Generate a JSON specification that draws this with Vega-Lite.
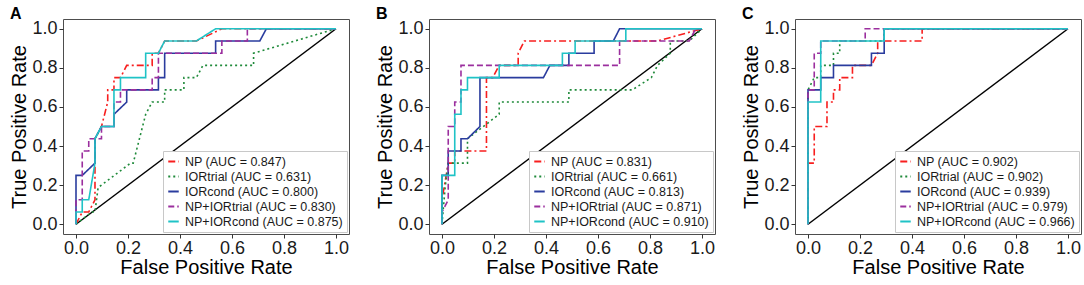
{
  "$schema": "https://vega.github.io/schema/vega-lite/v6.json",
  "padding": {"left": 9, "top": 5, "right": 2, "bottom": 0},
  "background": "white",
  "config": {
    "font": "Liberation Sans",
    "view": {"stroke": "#4d4d4d", "strokeWidth": 1},
    "axis": {"domain": false, "grid": false, "tickColor": "#333333", "tickSize": 4, "labelFontSize": 18, "labelColor": "#1a1a1a", "labelPadding": 2, "titleFontSize": 20, "titleFontWeight": "normal", "titleColor": "#000000"},
    "axisX": {"titlePadding": 0, "labelPadding": 1},
    "axisY": {"titlePadding": 2},
    "legend": {"orient": "bottom-right", "offset": 2, "fillColor": "white", "strokeColor": "#c8c8c8", "padding": 4, "labelFontSize": 12.5, "labelColor": "#1a1a1a", "symbolType": "stroke", "symbolSize": 110, "symbolStrokeWidth": 2, "rowPadding": 2, "labelOffset": 5, "labelLimit": 400},
    "title": {"fontSize": 16, "fontWeight": "bold", "anchor": "start", "frame": "bounds", "offset": -3, "color": "#000000"}
  },
  "datasets": {
    "diag": [{"fpr": 0, "tpr": 0}, {"fpr": 1, "tpr": 1}],
    "roc": [
      {"panel":"A","label":"NP (AUC = 0.847)","step":0,"fpr":0,"tpr":0},
      {"panel":"A","label":"NP (AUC = 0.847)","step":1,"fpr":0.024,"tpr":0.0625},
      {"panel":"A","label":"NP (AUC = 0.847)","step":2,"fpr":0.049,"tpr":0.0625},
      {"panel":"A","label":"NP (AUC = 0.847)","step":3,"fpr":0.073,"tpr":0.125},
      {"panel":"A","label":"NP (AUC = 0.847)","step":4,"fpr":0.073,"tpr":0.4375},
      {"panel":"A","label":"NP (AUC = 0.847)","step":5,"fpr":0.098,"tpr":0.5},
      {"panel":"A","label":"NP (AUC = 0.847)","step":6,"fpr":0.122,"tpr":0.625},
      {"panel":"A","label":"NP (AUC = 0.847)","step":7,"fpr":0.122,"tpr":0.6875},
      {"panel":"A","label":"NP (AUC = 0.847)","step":8,"fpr":0.146,"tpr":0.6875},
      {"panel":"A","label":"NP (AUC = 0.847)","step":9,"fpr":0.146,"tpr":0.75},
      {"panel":"A","label":"NP (AUC = 0.847)","step":10,"fpr":0.171,"tpr":0.75},
      {"panel":"A","label":"NP (AUC = 0.847)","step":11,"fpr":0.195,"tpr":0.8125},
      {"panel":"A","label":"NP (AUC = 0.847)","step":12,"fpr":0.293,"tpr":0.8125},
      {"panel":"A","label":"NP (AUC = 0.847)","step":13,"fpr":0.293,"tpr":0.875},
      {"panel":"A","label":"NP (AUC = 0.847)","step":14,"fpr":0.317,"tpr":0.875},
      {"panel":"A","label":"NP (AUC = 0.847)","step":15,"fpr":0.341,"tpr":0.9375},
      {"panel":"A","label":"NP (AUC = 0.847)","step":16,"fpr":0.463,"tpr":0.9375},
      {"panel":"A","label":"NP (AUC = 0.847)","step":17,"fpr":0.561,"tpr":1},
      {"panel":"A","label":"NP (AUC = 0.847)","step":18,"fpr":1,"tpr":1},

      {"panel":"A","label":"IORtrial (AUC = 0.631)","step":0,"fpr":0,"tpr":0},
      {"panel":"A","label":"IORtrial (AUC = 0.631)","step":1,"fpr":0.061,"tpr":0.0625},
      {"panel":"A","label":"IORtrial (AUC = 0.631)","step":2,"fpr":0.073,"tpr":0.0625},
      {"panel":"A","label":"IORtrial (AUC = 0.631)","step":3,"fpr":0.085,"tpr":0.1875},
      {"panel":"A","label":"IORtrial (AUC = 0.631)","step":4,"fpr":0.21,"tpr":0.3125},
      {"panel":"A","label":"IORtrial (AUC = 0.631)","step":5,"fpr":0.22,"tpr":0.3125},
      {"panel":"A","label":"IORtrial (AUC = 0.631)","step":6,"fpr":0.244,"tpr":0.4375},
      {"panel":"A","label":"IORtrial (AUC = 0.631)","step":7,"fpr":0.268,"tpr":0.5625},
      {"panel":"A","label":"IORtrial (AUC = 0.631)","step":8,"fpr":0.293,"tpr":0.625},
      {"panel":"A","label":"IORtrial (AUC = 0.631)","step":9,"fpr":0.341,"tpr":0.625},
      {"panel":"A","label":"IORtrial (AUC = 0.631)","step":10,"fpr":0.341,"tpr":0.6875},
      {"panel":"A","label":"IORtrial (AUC = 0.631)","step":11,"fpr":0.415,"tpr":0.6875},
      {"panel":"A","label":"IORtrial (AUC = 0.631)","step":12,"fpr":0.415,"tpr":0.75},
      {"panel":"A","label":"IORtrial (AUC = 0.631)","step":13,"fpr":0.463,"tpr":0.75},
      {"panel":"A","label":"IORtrial (AUC = 0.631)","step":14,"fpr":0.488,"tpr":0.8125},
      {"panel":"A","label":"IORtrial (AUC = 0.631)","step":15,"fpr":0.683,"tpr":0.8125},
      {"panel":"A","label":"IORtrial (AUC = 0.631)","step":16,"fpr":0.683,"tpr":0.875},
      {"panel":"A","label":"IORtrial (AUC = 0.631)","step":17,"fpr":1,"tpr":1},

      {"panel":"A","label":"IORcond (AUC = 0.800)","step":0,"fpr":0,"tpr":0},
      {"panel":"A","label":"IORcond (AUC = 0.800)","step":1,"fpr":0,"tpr":0.25},
      {"panel":"A","label":"IORcond (AUC = 0.800)","step":2,"fpr":0.024,"tpr":0.25},
      {"panel":"A","label":"IORcond (AUC = 0.800)","step":3,"fpr":0.073,"tpr":0.3125},
      {"panel":"A","label":"IORcond (AUC = 0.800)","step":4,"fpr":0.073,"tpr":0.4375},
      {"panel":"A","label":"IORcond (AUC = 0.800)","step":5,"fpr":0.098,"tpr":0.5},
      {"panel":"A","label":"IORcond (AUC = 0.800)","step":6,"fpr":0.146,"tpr":0.5},
      {"panel":"A","label":"IORcond (AUC = 0.800)","step":7,"fpr":0.146,"tpr":0.5625},
      {"panel":"A","label":"IORcond (AUC = 0.800)","step":8,"fpr":0.195,"tpr":0.625},
      {"panel":"A","label":"IORcond (AUC = 0.800)","step":9,"fpr":0.195,"tpr":0.6875},
      {"panel":"A","label":"IORcond (AUC = 0.800)","step":10,"fpr":0.317,"tpr":0.6875},
      {"panel":"A","label":"IORcond (AUC = 0.800)","step":11,"fpr":0.317,"tpr":0.75},
      {"panel":"A","label":"IORcond (AUC = 0.800)","step":12,"fpr":0.341,"tpr":0.75},
      {"panel":"A","label":"IORcond (AUC = 0.800)","step":13,"fpr":0.341,"tpr":0.875},
      {"panel":"A","label":"IORcond (AUC = 0.800)","step":14,"fpr":0.537,"tpr":0.875},
      {"panel":"A","label":"IORcond (AUC = 0.800)","step":15,"fpr":0.537,"tpr":0.9375},
      {"panel":"A","label":"IORcond (AUC = 0.800)","step":16,"fpr":0.707,"tpr":0.9375},
      {"panel":"A","label":"IORcond (AUC = 0.800)","step":17,"fpr":0.732,"tpr":1},
      {"panel":"A","label":"IORcond (AUC = 0.800)","step":18,"fpr":1,"tpr":1},

      {"panel":"A","label":"NP+IORtrial (AUC = 0.830)","step":0,"fpr":0,"tpr":0},
      {"panel":"A","label":"NP+IORtrial (AUC = 0.830)","step":1,"fpr":0,"tpr":0.125},
      {"panel":"A","label":"NP+IORtrial (AUC = 0.830)","step":2,"fpr":0.024,"tpr":0.125},
      {"panel":"A","label":"NP+IORtrial (AUC = 0.830)","step":3,"fpr":0.024,"tpr":0.375},
      {"panel":"A","label":"NP+IORtrial (AUC = 0.830)","step":4,"fpr":0.049,"tpr":0.375},
      {"panel":"A","label":"NP+IORtrial (AUC = 0.830)","step":5,"fpr":0.049,"tpr":0.4375},
      {"panel":"A","label":"NP+IORtrial (AUC = 0.830)","step":6,"fpr":0.098,"tpr":0.4375},
      {"panel":"A","label":"NP+IORtrial (AUC = 0.830)","step":7,"fpr":0.098,"tpr":0.5},
      {"panel":"A","label":"NP+IORtrial (AUC = 0.830)","step":8,"fpr":0.146,"tpr":0.5},
      {"panel":"A","label":"NP+IORtrial (AUC = 0.830)","step":9,"fpr":0.146,"tpr":0.625},
      {"panel":"A","label":"NP+IORtrial (AUC = 0.830)","step":10,"fpr":0.171,"tpr":0.625},
      {"panel":"A","label":"NP+IORtrial (AUC = 0.830)","step":11,"fpr":0.171,"tpr":0.6875},
      {"panel":"A","label":"NP+IORtrial (AUC = 0.830)","step":12,"fpr":0.293,"tpr":0.6875},
      {"panel":"A","label":"NP+IORtrial (AUC = 0.830)","step":13,"fpr":0.293,"tpr":0.75},
      {"panel":"A","label":"NP+IORtrial (AUC = 0.830)","step":14,"fpr":0.317,"tpr":0.75},
      {"panel":"A","label":"NP+IORtrial (AUC = 0.830)","step":15,"fpr":0.317,"tpr":0.875},
      {"panel":"A","label":"NP+IORtrial (AUC = 0.830)","step":16,"fpr":0.561,"tpr":0.875},
      {"panel":"A","label":"NP+IORtrial (AUC = 0.830)","step":17,"fpr":0.561,"tpr":0.9375},
      {"panel":"A","label":"NP+IORtrial (AUC = 0.830)","step":18,"fpr":0.659,"tpr":0.9375},
      {"panel":"A","label":"NP+IORtrial (AUC = 0.830)","step":19,"fpr":0.659,"tpr":1},
      {"panel":"A","label":"NP+IORtrial (AUC = 0.830)","step":20,"fpr":1,"tpr":1},

      {"panel":"A","label":"NP+IORcond (AUC = 0.875)","step":0,"fpr":0,"tpr":0},
      {"panel":"A","label":"NP+IORcond (AUC = 0.875)","step":1,"fpr":0,"tpr":0.0625},
      {"panel":"A","label":"NP+IORcond (AUC = 0.875)","step":2,"fpr":0.024,"tpr":0.0625},
      {"panel":"A","label":"NP+IORcond (AUC = 0.875)","step":3,"fpr":0.024,"tpr":0.125},
      {"panel":"A","label":"NP+IORcond (AUC = 0.875)","step":4,"fpr":0.049,"tpr":0.125},
      {"panel":"A","label":"NP+IORcond (AUC = 0.875)","step":5,"fpr":0.073,"tpr":0.3125},
      {"panel":"A","label":"NP+IORcond (AUC = 0.875)","step":6,"fpr":0.073,"tpr":0.4375},
      {"panel":"A","label":"NP+IORcond (AUC = 0.875)","step":7,"fpr":0.098,"tpr":0.5},
      {"panel":"A","label":"NP+IORcond (AUC = 0.875)","step":8,"fpr":0.146,"tpr":0.5},
      {"panel":"A","label":"NP+IORcond (AUC = 0.875)","step":9,"fpr":0.146,"tpr":0.6875},
      {"panel":"A","label":"NP+IORcond (AUC = 0.875)","step":10,"fpr":0.171,"tpr":0.6875},
      {"panel":"A","label":"NP+IORcond (AUC = 0.875)","step":11,"fpr":0.171,"tpr":0.75},
      {"panel":"A","label":"NP+IORcond (AUC = 0.875)","step":12,"fpr":0.268,"tpr":0.75},
      {"panel":"A","label":"NP+IORcond (AUC = 0.875)","step":13,"fpr":0.268,"tpr":0.875},
      {"panel":"A","label":"NP+IORcond (AUC = 0.875)","step":14,"fpr":0.317,"tpr":0.875},
      {"panel":"A","label":"NP+IORcond (AUC = 0.875)","step":15,"fpr":0.341,"tpr":0.9375},
      {"panel":"A","label":"NP+IORcond (AUC = 0.875)","step":16,"fpr":0.463,"tpr":0.9375},
      {"panel":"A","label":"NP+IORcond (AUC = 0.875)","step":17,"fpr":0.537,"tpr":1},
      {"panel":"A","label":"NP+IORcond (AUC = 0.875)","step":18,"fpr":1,"tpr":1},

      {"panel":"B","label":"NP (AUC = 0.831)","step":0,"fpr":0,"tpr":0},
      {"panel":"B","label":"NP (AUC = 0.831)","step":1,"fpr":0,"tpr":0.125},
      {"panel":"B","label":"NP (AUC = 0.831)","step":2,"fpr":0.024,"tpr":0.3125},
      {"panel":"B","label":"NP (AUC = 0.831)","step":3,"fpr":0.049,"tpr":0.3125},
      {"panel":"B","label":"NP (AUC = 0.831)","step":4,"fpr":0.049,"tpr":0.375},
      {"panel":"B","label":"NP (AUC = 0.831)","step":5,"fpr":0.171,"tpr":0.375},
      {"panel":"B","label":"NP (AUC = 0.831)","step":6,"fpr":0.171,"tpr":0.75},
      {"panel":"B","label":"NP (AUC = 0.831)","step":7,"fpr":0.195,"tpr":0.75},
      {"panel":"B","label":"NP (AUC = 0.831)","step":8,"fpr":0.22,"tpr":0.8125},
      {"panel":"B","label":"NP (AUC = 0.831)","step":9,"fpr":0.293,"tpr":0.8125},
      {"panel":"B","label":"NP (AUC = 0.831)","step":10,"fpr":0.293,"tpr":0.875},
      {"panel":"B","label":"NP (AUC = 0.831)","step":11,"fpr":0.317,"tpr":0.9375},
      {"panel":"B","label":"NP (AUC = 0.831)","step":12,"fpr":0.829,"tpr":0.9375},
      {"panel":"B","label":"NP (AUC = 0.831)","step":13,"fpr":1,"tpr":1},

      {"panel":"B","label":"IORtrial (AUC = 0.661)","step":0,"fpr":0,"tpr":0},
      {"panel":"B","label":"IORtrial (AUC = 0.661)","step":1,"fpr":0.012,"tpr":0.1875},
      {"panel":"B","label":"IORtrial (AUC = 0.661)","step":2,"fpr":0.024,"tpr":0.3125},
      {"panel":"B","label":"IORtrial (AUC = 0.661)","step":3,"fpr":0.098,"tpr":0.3125},
      {"panel":"B","label":"IORtrial (AUC = 0.661)","step":4,"fpr":0.098,"tpr":0.4375},
      {"panel":"B","label":"IORtrial (AUC = 0.661)","step":5,"fpr":0.22,"tpr":0.5625},
      {"panel":"B","label":"IORtrial (AUC = 0.661)","step":6,"fpr":0.22,"tpr":0.625},
      {"panel":"B","label":"IORtrial (AUC = 0.661)","step":7,"fpr":0.488,"tpr":0.625},
      {"panel":"B","label":"IORtrial (AUC = 0.661)","step":8,"fpr":0.488,"tpr":0.6875},
      {"panel":"B","label":"IORtrial (AUC = 0.661)","step":9,"fpr":0.732,"tpr":0.6875},
      {"panel":"B","label":"IORtrial (AUC = 0.661)","step":10,"fpr":0.805,"tpr":0.75},
      {"panel":"B","label":"IORtrial (AUC = 0.661)","step":11,"fpr":0.829,"tpr":0.8125},
      {"panel":"B","label":"IORtrial (AUC = 0.661)","step":12,"fpr":0.878,"tpr":0.875},
      {"panel":"B","label":"IORtrial (AUC = 0.661)","step":13,"fpr":0.878,"tpr":0.9375},
      {"panel":"B","label":"IORtrial (AUC = 0.661)","step":14,"fpr":0.951,"tpr":0.9375},
      {"panel":"B","label":"IORtrial (AUC = 0.661)","step":15,"fpr":1,"tpr":1},

      {"panel":"B","label":"IORcond (AUC = 0.813)","step":0,"fpr":0,"tpr":0},
      {"panel":"B","label":"IORcond (AUC = 0.813)","step":1,"fpr":0,"tpr":0.25},
      {"panel":"B","label":"IORcond (AUC = 0.813)","step":2,"fpr":0.024,"tpr":0.25},
      {"panel":"B","label":"IORcond (AUC = 0.813)","step":3,"fpr":0.024,"tpr":0.375},
      {"panel":"B","label":"IORcond (AUC = 0.813)","step":4,"fpr":0.073,"tpr":0.375},
      {"panel":"B","label":"IORcond (AUC = 0.813)","step":5,"fpr":0.073,"tpr":0.4375},
      {"panel":"B","label":"IORcond (AUC = 0.813)","step":6,"fpr":0.098,"tpr":0.4375},
      {"panel":"B","label":"IORcond (AUC = 0.813)","step":7,"fpr":0.146,"tpr":0.5},
      {"panel":"B","label":"IORcond (AUC = 0.813)","step":8,"fpr":0.146,"tpr":0.75},
      {"panel":"B","label":"IORcond (AUC = 0.813)","step":9,"fpr":0.39,"tpr":0.75},
      {"panel":"B","label":"IORcond (AUC = 0.813)","step":10,"fpr":0.415,"tpr":0.8125},
      {"panel":"B","label":"IORcond (AUC = 0.813)","step":11,"fpr":0.488,"tpr":0.8125},
      {"panel":"B","label":"IORcond (AUC = 0.813)","step":12,"fpr":0.488,"tpr":0.875},
      {"panel":"B","label":"IORcond (AUC = 0.813)","step":13,"fpr":0.585,"tpr":0.875},
      {"panel":"B","label":"IORcond (AUC = 0.813)","step":14,"fpr":0.585,"tpr":0.9375},
      {"panel":"B","label":"IORcond (AUC = 0.813)","step":15,"fpr":0.659,"tpr":0.9375},
      {"panel":"B","label":"IORcond (AUC = 0.813)","step":16,"fpr":0.683,"tpr":1},
      {"panel":"B","label":"IORcond (AUC = 0.813)","step":17,"fpr":1,"tpr":1},

      {"panel":"B","label":"NP+IORtrial (AUC = 0.871)","step":0,"fpr":0,"tpr":0},
      {"panel":"B","label":"NP+IORtrial (AUC = 0.871)","step":1,"fpr":0,"tpr":0.0625},
      {"panel":"B","label":"NP+IORtrial (AUC = 0.871)","step":2,"fpr":0.024,"tpr":0.125},
      {"panel":"B","label":"NP+IORtrial (AUC = 0.871)","step":3,"fpr":0.024,"tpr":0.5},
      {"panel":"B","label":"NP+IORtrial (AUC = 0.871)","step":4,"fpr":0.049,"tpr":0.5},
      {"panel":"B","label":"NP+IORtrial (AUC = 0.871)","step":5,"fpr":0.049,"tpr":0.625},
      {"panel":"B","label":"NP+IORtrial (AUC = 0.871)","step":6,"fpr":0.073,"tpr":0.625},
      {"panel":"B","label":"NP+IORtrial (AUC = 0.871)","step":7,"fpr":0.073,"tpr":0.8125},
      {"panel":"B","label":"NP+IORtrial (AUC = 0.871)","step":8,"fpr":0.683,"tpr":0.8125},
      {"panel":"B","label":"NP+IORtrial (AUC = 0.871)","step":9,"fpr":0.683,"tpr":0.9375},
      {"panel":"B","label":"NP+IORtrial (AUC = 0.871)","step":10,"fpr":0.951,"tpr":0.9375},
      {"panel":"B","label":"NP+IORtrial (AUC = 0.871)","step":11,"fpr":0.976,"tpr":1},
      {"panel":"B","label":"NP+IORtrial (AUC = 0.871)","step":12,"fpr":1,"tpr":1},

      {"panel":"B","label":"NP+IORcond (AUC = 0.910)","step":0,"fpr":0,"tpr":0},
      {"panel":"B","label":"NP+IORcond (AUC = 0.910)","step":1,"fpr":0,"tpr":0.25},
      {"panel":"B","label":"NP+IORcond (AUC = 0.910)","step":2,"fpr":0.049,"tpr":0.25},
      {"panel":"B","label":"NP+IORcond (AUC = 0.910)","step":3,"fpr":0.049,"tpr":0.5625},
      {"panel":"B","label":"NP+IORcond (AUC = 0.910)","step":4,"fpr":0.073,"tpr":0.5625},
      {"panel":"B","label":"NP+IORcond (AUC = 0.910)","step":5,"fpr":0.073,"tpr":0.6875},
      {"panel":"B","label":"NP+IORcond (AUC = 0.910)","step":6,"fpr":0.098,"tpr":0.6875},
      {"panel":"B","label":"NP+IORcond (AUC = 0.910)","step":7,"fpr":0.098,"tpr":0.75},
      {"panel":"B","label":"NP+IORcond (AUC = 0.910)","step":8,"fpr":0.22,"tpr":0.75},
      {"panel":"B","label":"NP+IORcond (AUC = 0.910)","step":9,"fpr":0.22,"tpr":0.8125},
      {"panel":"B","label":"NP+IORcond (AUC = 0.910)","step":10,"fpr":0.463,"tpr":0.8125},
      {"panel":"B","label":"NP+IORcond (AUC = 0.910)","step":11,"fpr":0.463,"tpr":0.875},
      {"panel":"B","label":"NP+IORcond (AUC = 0.910)","step":12,"fpr":0.512,"tpr":0.875},
      {"panel":"B","label":"NP+IORcond (AUC = 0.910)","step":13,"fpr":0.512,"tpr":0.9375},
      {"panel":"B","label":"NP+IORcond (AUC = 0.910)","step":14,"fpr":0.707,"tpr":0.9375},
      {"panel":"B","label":"NP+IORcond (AUC = 0.910)","step":15,"fpr":0.707,"tpr":1},
      {"panel":"B","label":"NP+IORcond (AUC = 0.910)","step":16,"fpr":1,"tpr":1},

      {"panel":"C","label":"NP (AUC = 0.902)","step":0,"fpr":0,"tpr":0},
      {"panel":"C","label":"NP (AUC = 0.902)","step":1,"fpr":0,"tpr":0.3125},
      {"panel":"C","label":"NP (AUC = 0.902)","step":2,"fpr":0.024,"tpr":0.3125},
      {"panel":"C","label":"NP (AUC = 0.902)","step":3,"fpr":0.024,"tpr":0.5},
      {"panel":"C","label":"NP (AUC = 0.902)","step":4,"fpr":0.073,"tpr":0.5},
      {"panel":"C","label":"NP (AUC = 0.902)","step":5,"fpr":0.073,"tpr":0.625},
      {"panel":"C","label":"NP (AUC = 0.902)","step":6,"fpr":0.098,"tpr":0.625},
      {"panel":"C","label":"NP (AUC = 0.902)","step":7,"fpr":0.098,"tpr":0.6875},
      {"panel":"C","label":"NP (AUC = 0.902)","step":8,"fpr":0.122,"tpr":0.6875},
      {"panel":"C","label":"NP (AUC = 0.902)","step":9,"fpr":0.122,"tpr":0.75},
      {"panel":"C","label":"NP (AUC = 0.902)","step":10,"fpr":0.171,"tpr":0.75},
      {"panel":"C","label":"NP (AUC = 0.902)","step":11,"fpr":0.171,"tpr":0.8125},
      {"panel":"C","label":"NP (AUC = 0.902)","step":12,"fpr":0.244,"tpr":0.8125},
      {"panel":"C","label":"NP (AUC = 0.902)","step":13,"fpr":0.268,"tpr":0.875},
      {"panel":"C","label":"NP (AUC = 0.902)","step":14,"fpr":0.268,"tpr":0.9375},
      {"panel":"C","label":"NP (AUC = 0.902)","step":15,"fpr":0.439,"tpr":0.9375},
      {"panel":"C","label":"NP (AUC = 0.902)","step":16,"fpr":0.439,"tpr":1},
      {"panel":"C","label":"NP (AUC = 0.902)","step":17,"fpr":1,"tpr":1},

      {"panel":"C","label":"IORtrial (AUC = 0.902)","step":0,"fpr":0,"tpr":0},
      {"panel":"C","label":"IORtrial (AUC = 0.902)","step":1,"fpr":0,"tpr":0.6875},
      {"panel":"C","label":"IORtrial (AUC = 0.902)","step":2,"fpr":0.024,"tpr":0.75},
      {"panel":"C","label":"IORtrial (AUC = 0.902)","step":3,"fpr":0.049,"tpr":0.75},
      {"panel":"C","label":"IORtrial (AUC = 0.902)","step":4,"fpr":0.049,"tpr":0.8125},
      {"panel":"C","label":"IORtrial (AUC = 0.902)","step":5,"fpr":0.098,"tpr":0.8125},
      {"panel":"C","label":"IORtrial (AUC = 0.902)","step":6,"fpr":0.098,"tpr":0.875},
      {"panel":"C","label":"IORtrial (AUC = 0.902)","step":7,"fpr":0.122,"tpr":0.875},
      {"panel":"C","label":"IORtrial (AUC = 0.902)","step":8,"fpr":0.122,"tpr":0.9375},
      {"panel":"C","label":"IORtrial (AUC = 0.902)","step":9,"fpr":0.293,"tpr":0.9375},
      {"panel":"C","label":"IORtrial (AUC = 0.902)","step":10,"fpr":0.293,"tpr":1},
      {"panel":"C","label":"IORtrial (AUC = 0.902)","step":11,"fpr":1,"tpr":1},

      {"panel":"C","label":"IORcond (AUC = 0.939)","step":0,"fpr":0,"tpr":0},
      {"panel":"C","label":"IORcond (AUC = 0.939)","step":1,"fpr":0,"tpr":0.6875},
      {"panel":"C","label":"IORcond (AUC = 0.939)","step":2,"fpr":0.049,"tpr":0.6875},
      {"panel":"C","label":"IORcond (AUC = 0.939)","step":3,"fpr":0.049,"tpr":0.75},
      {"panel":"C","label":"IORcond (AUC = 0.939)","step":4,"fpr":0.098,"tpr":0.75},
      {"panel":"C","label":"IORcond (AUC = 0.939)","step":5,"fpr":0.098,"tpr":0.8125},
      {"panel":"C","label":"IORcond (AUC = 0.939)","step":6,"fpr":0.244,"tpr":0.8125},
      {"panel":"C","label":"IORcond (AUC = 0.939)","step":7,"fpr":0.244,"tpr":0.875},
      {"panel":"C","label":"IORcond (AUC = 0.939)","step":8,"fpr":0.293,"tpr":0.875},
      {"panel":"C","label":"IORcond (AUC = 0.939)","step":9,"fpr":0.293,"tpr":1},
      {"panel":"C","label":"IORcond (AUC = 0.939)","step":10,"fpr":1,"tpr":1},

      {"panel":"C","label":"NP+IORtrial (AUC = 0.979)","step":0,"fpr":0,"tpr":0},
      {"panel":"C","label":"NP+IORtrial (AUC = 0.979)","step":1,"fpr":0,"tpr":0.6875},
      {"panel":"C","label":"NP+IORtrial (AUC = 0.979)","step":2,"fpr":0.024,"tpr":0.6875},
      {"panel":"C","label":"NP+IORtrial (AUC = 0.979)","step":3,"fpr":0.024,"tpr":0.875},
      {"panel":"C","label":"NP+IORtrial (AUC = 0.979)","step":4,"fpr":0.049,"tpr":0.875},
      {"panel":"C","label":"NP+IORtrial (AUC = 0.979)","step":5,"fpr":0.049,"tpr":0.9375},
      {"panel":"C","label":"NP+IORtrial (AUC = 0.979)","step":6,"fpr":0.22,"tpr":0.9375},
      {"panel":"C","label":"NP+IORtrial (AUC = 0.979)","step":7,"fpr":0.22,"tpr":1},
      {"panel":"C","label":"NP+IORtrial (AUC = 0.979)","step":8,"fpr":1,"tpr":1},

      {"panel":"C","label":"NP+IORcond (AUC = 0.966)","step":0,"fpr":0,"tpr":0},
      {"panel":"C","label":"NP+IORcond (AUC = 0.966)","step":1,"fpr":0,"tpr":0.625},
      {"panel":"C","label":"NP+IORcond (AUC = 0.966)","step":2,"fpr":0.049,"tpr":0.625},
      {"panel":"C","label":"NP+IORcond (AUC = 0.966)","step":3,"fpr":0.049,"tpr":0.9375},
      {"panel":"C","label":"NP+IORcond (AUC = 0.966)","step":4,"fpr":0.293,"tpr":0.9375},
      {"panel":"C","label":"NP+IORcond (AUC = 0.966)","step":5,"fpr":0.293,"tpr":1},
      {"panel":"C","label":"NP+IORcond (AUC = 0.966)","step":6,"fpr":1,"tpr":1}
    ]
  },
  "spacing": 25,
  "hconcat": [
    {
      "title": "A",
      "width": 286,
      "height": 215,
      "layer": [
        {
          "data": {"name": "diag"},
          "mark": {"type": "line", "color": "#000000", "strokeWidth": 1.5},
          "encoding": {
            "x": {"field": "fpr", "type": "quantitative", "scale": {"domain": [-0.05, 1.05], "nice": false, "zero": false}, "axis": {"values": [0, 0.2, 0.4, 0.6, 0.8, 1], "format": ".1f", "title": "False Positive Rate"}},
            "y": {"field": "tpr", "type": "quantitative", "scale": {"domain": [-0.05, 1.05], "nice": false, "zero": false}, "axis": {"values": [0, 0.2, 0.4, 0.6, 0.8, 1], "format": ".1f", "title": "True Positive Rate"}}
          }
        },
        {
          "data": {"name": "roc"},
          "transform": [{"filter": "datum.panel === 'A'"}],
          "mark": {"type": "line", "strokeWidth": 1.6},
          "encoding": {
            "x": {"field": "fpr", "type": "quantitative"},
            "y": {"field": "tpr", "type": "quantitative"},
            "order": {"field": "step", "type": "quantitative"},
            "color": {"field": "label", "type": "nominal", "sort": null, "title": null,
              "scale": {"domain": ["NP (AUC = 0.847)", "IORtrial (AUC = 0.631)", "IORcond (AUC = 0.800)", "NP+IORtrial (AUC = 0.830)", "NP+IORcond (AUC = 0.875)"], "range": ["#f81e1e", "#1f8a3a", "#2a3c9e", "#9b2f9e", "#1fc3c6"]}},
            "strokeDash": {"field": "label", "type": "nominal", "sort": null, "title": null,
              "scale": {"domain": ["NP (AUC = 0.847)", "IORtrial (AUC = 0.631)", "IORcond (AUC = 0.800)", "NP+IORtrial (AUC = 0.830)", "NP+IORcond (AUC = 0.875)"], "range": [[7, 3, 2, 3], [2, 3], [1, 0], [6, 3], [1, 0]]}}
          }
        }
      ]
    },
    {
      "title": "B",
      "width": 286,
      "height": 215,
      "layer": [
        {
          "data": {"name": "diag"},
          "mark": {"type": "line", "color": "#000000", "strokeWidth": 1.5},
          "encoding": {
            "x": {"field": "fpr", "type": "quantitative", "scale": {"domain": [-0.05, 1.05], "nice": false, "zero": false}, "axis": {"values": [0, 0.2, 0.4, 0.6, 0.8, 1], "format": ".1f", "title": "False Positive Rate"}},
            "y": {"field": "tpr", "type": "quantitative", "scale": {"domain": [-0.05, 1.05], "nice": false, "zero": false}, "axis": {"values": [0, 0.2, 0.4, 0.6, 0.8, 1], "format": ".1f", "title": "True Positive Rate"}}
          }
        },
        {
          "data": {"name": "roc"},
          "transform": [{"filter": "datum.panel === 'B'"}],
          "mark": {"type": "line", "strokeWidth": 1.6},
          "encoding": {
            "x": {"field": "fpr", "type": "quantitative"},
            "y": {"field": "tpr", "type": "quantitative"},
            "order": {"field": "step", "type": "quantitative"},
            "color": {"field": "label", "type": "nominal", "sort": null, "title": null,
              "scale": {"domain": ["NP (AUC = 0.831)", "IORtrial (AUC = 0.661)", "IORcond (AUC = 0.813)", "NP+IORtrial (AUC = 0.871)", "NP+IORcond (AUC = 0.910)"], "range": ["#f81e1e", "#1f8a3a", "#2a3c9e", "#9b2f9e", "#1fc3c6"]}},
            "strokeDash": {"field": "label", "type": "nominal", "sort": null, "title": null,
              "scale": {"domain": ["NP (AUC = 0.831)", "IORtrial (AUC = 0.661)", "IORcond (AUC = 0.813)", "NP+IORtrial (AUC = 0.871)", "NP+IORcond (AUC = 0.910)"], "range": [[7, 3, 2, 3], [2, 3], [1, 0], [6, 3], [1, 0]]}}
          }
        }
      ]
    },
    {
      "title": "C",
      "width": 286,
      "height": 215,
      "layer": [
        {
          "data": {"name": "diag"},
          "mark": {"type": "line", "color": "#000000", "strokeWidth": 1.5},
          "encoding": {
            "x": {"field": "fpr", "type": "quantitative", "scale": {"domain": [-0.05, 1.05], "nice": false, "zero": false}, "axis": {"values": [0, 0.2, 0.4, 0.6, 0.8, 1], "format": ".1f", "title": "False Positive Rate"}},
            "y": {"field": "tpr", "type": "quantitative", "scale": {"domain": [-0.05, 1.05], "nice": false, "zero": false}, "axis": {"values": [0, 0.2, 0.4, 0.6, 0.8, 1], "format": ".1f", "title": "True Positive Rate"}}
          }
        },
        {
          "data": {"name": "roc"},
          "transform": [{"filter": "datum.panel === 'C'"}],
          "mark": {"type": "line", "strokeWidth": 1.6},
          "encoding": {
            "x": {"field": "fpr", "type": "quantitative"},
            "y": {"field": "tpr", "type": "quantitative"},
            "order": {"field": "step", "type": "quantitative"},
            "color": {"field": "label", "type": "nominal", "sort": null, "title": null,
              "scale": {"domain": ["NP (AUC = 0.902)", "IORtrial (AUC = 0.902)", "IORcond (AUC = 0.939)", "NP+IORtrial (AUC = 0.979)", "NP+IORcond (AUC = 0.966)"], "range": ["#f81e1e", "#1f8a3a", "#2a3c9e", "#9b2f9e", "#1fc3c6"]}},
            "strokeDash": {"field": "label", "type": "nominal", "sort": null, "title": null,
              "scale": {"domain": ["NP (AUC = 0.902)", "IORtrial (AUC = 0.902)", "IORcond (AUC = 0.939)", "NP+IORtrial (AUC = 0.979)", "NP+IORcond (AUC = 0.966)"], "range": [[7, 3, 2, 3], [2, 3], [1, 0], [6, 3], [1, 0]]}}
          }
        }
      ]
    }
  ],
  "resolve": {
    "scale": {"color": "independent", "strokeDash": "independent", "x": "independent", "y": "independent"},
    "legend": {"color": "independent", "strokeDash": "independent"}
  }
}
